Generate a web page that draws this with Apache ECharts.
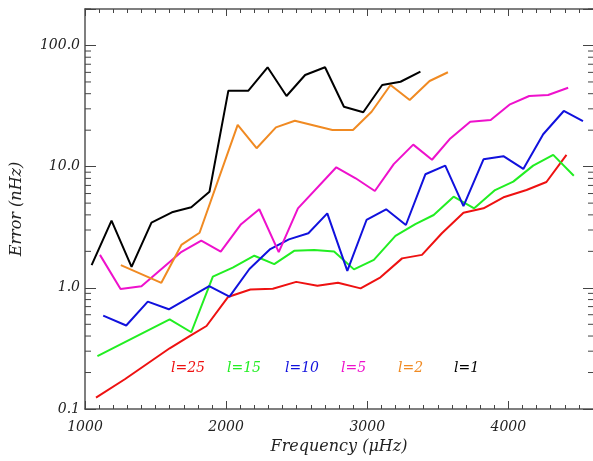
<!DOCTYPE html>
<html>
<head>
<meta charset="utf-8">
<script src="https://cdn.jsdelivr.net/npm/echarts@6.0.0/dist/echarts.min.js"></script>
<style>
  html, body { margin: 0; padding: 0; background: #fff; overflow: hidden; }
  #chart { width: 596px; height: 461px; }
</style>
</head>
<body>
<div id="chart"></div>
<script>
// frequencies (uHz) and errors (nHz) for each degree l
const freqL1 = [1047, 1188, 1330, 1471, 1616, 1753, 1882, 2016, 2158, 2294, 2428, 2560, 2701, 2835, 2972, 3106, 3236, 3377]
const errL1 = [1.54, 3.58, 1.49, 3.45, 4.2, 4.62, 6.21, 42.4, 42.4, 66.1, 38.3, 57.1, 66.1, 31.2, 28.1, 47.2, 50.2, 60.8]

const freqL2 = [1254, 1541, 1683, 1812, 2082, 2216, 2353, 2487, 2753, 2899, 3031, 3165, 3301, 3442, 3572]
const errL2 = [1.54, 1.10, 2.26, 2.85, 22.1, 14.2, 21.1, 23.9, 20.1, 20.1, 28.4, 47.2, 35.5, 50.9, 60.1]

const freqL5 = [1106, 1252, 1400, 1678, 1824, 1962, 2106, 2235, 2373, 2509, 2781, 2918, 3054, 3188, 3326, 3459, 3589, 3730, 3875, 4012, 4148, 4282, 4424]
const errL5 = [1.87, 0.977, 1.03, 1.96, 2.45, 1.99, 3.35, 4.45, 1.97, 4.53, 9.88, 8.02, 6.30, 10.5, 15.2, 11.4, 17.1, 23.5, 24.3, 32.7, 38.3, 39.0, 44.8]

const freqL10 = [1129, 1292, 1445, 1594, 1880, 2024, 2165, 2313, 2445, 2583, 2717, 2859, 2995, 3134, 3274, 3412, 3553, 3682, 3824, 3965, 4106, 4247, 4393, 4529]
const errL10 = [0.589, 0.489, 0.769, 0.665, 1.035, 0.847, 1.43, 2.09, 2.51, 2.82, 4.12, 1.38, 3.63, 4.45, 3.30, 8.65, 10.2, 4.73, 11.5, 12.2, 9.57, 18.5, 28.8, 23.8]

const freqL15 = [1088, 1600, 1753, 1906, 2047, 2200, 2341, 2482, 2624, 2765, 2906, 3047, 3200, 3341, 3471, 3612, 3758, 3906, 4035, 4176, 4318, 4464]
const errL15 = [0.273, 0.549, 0.430, 1.236, 1.47, 1.84, 1.57, 2.02, 2.05, 1.99, 1.42, 1.70, 2.68, 3.36, 3.99, 5.65, 4.53, 6.41, 7.52, 10.2, 12.5, 8.42]

const freqL25 = [1078, 1282, 1600, 1741, 1861, 2013, 2172, 2331, 2497, 2647, 2793, 2953, 3094, 3247, 3388, 3529, 3682, 3824, 3972, 4129, 4270, 4412]
const errL25 = [0.124, 0.176, 0.317, 0.400, 0.484, 0.839, 0.968, 0.984, 1.12, 1.04, 1.10, 0.99, 1.22, 1.75, 1.87, 2.82, 4.17, 4.53, 5.62, 6.42, 7.47, 12.5]

const seriesNames = ['l=25', 'l=15', 'l=10', 'l=5', 'l=2', 'l=1']
const xTickLabels = ['1000', '2000', '3000', '4000']
const yTickLabels = ['0.1', '1.0', '10.0', '100.0']

const colors = ['#ee1111', '#22ee22', '#1111dd', '#ee11cc', '#f08a22', '#000000']
const legendX = [171, 227, 285, 341, 398, 454]
const axisColor = '#444'
const labelFont = 'italic 14px "DejaVu Serif"'

const zip = (xs, ys) => xs.map((x, i) => [x, ys[i]])
const allData = [
  zip(freqL25, errL25),
  zip(freqL15, errL15),
  zip(freqL10, errL10),
  zip(freqL5, errL5),
  zip(freqL2, errL2),
  zip(freqL1, errL1)
]

// log minor ticks 2..9 in each decade
const yMinor = []
for (let d = 0.1; d < 150; d *= 10) {
  for (let k = 2; k <= 9; k++) {
    const v = +(k * d).toPrecision(3)
    if (v <= 200) yMinor.push([1000, v])
  }
}

const isDecade = v => {
  const e = Math.log10(v)
  return Math.abs(e - Math.round(e)) < 1e-6
}

const chart = echarts.init(document.getElementById('chart'))

const lineSeries = seriesNames.map((name, i) => ({
  name,
  type: 'line',
  data: allData[i],
  xAxisIndex: 0,
  yAxisIndex: 0,
  symbol: 'none',
  lineStyle: { color: colors[i], width: 2 },
  itemStyle: { color: colors[i] },
  z: 3
}))

const textStyleAxis = {
  fontFamily: 'DejaVu Serif',
  fontStyle: 'italic',
  fontSize: 14,
  color: '#222'
}

const tickStyle = { color: axisColor, width: 1 }

chart.setOption({
  animation: false,
  backgroundColor: '#fff',
  grid: { left: 85, top: 9, right: 1, bottom: 52 },
  xAxis: [
    {
      type: 'value',
      position: 'bottom',
      min: 1000,
      max: 4600,
      interval: 1000,
      name: 'Frequency (μHz)',
      nameLocation: 'middle',
      nameGap: 28,
      nameTextStyle: { ...textStyleAxis, fontSize: 16 },
      axisLine: { show: true, lineStyle: { color: '#555', width: 1.5 } },
      axisTick: { show: true, inside: true, length: 8, lineStyle: tickStyle },
      axisLabel: {
        ...textStyleAxis,
        margin: 11,
        formatter: v => {
          const s = String(v)
          return xTickLabels.includes(s) ? s : ''
        }
      },
      splitLine: { show: false }
    },
    {
      type: 'value',
      position: 'bottom',
      min: 1000,
      max: 4600,
      interval: 100,
      axisLine: { show: false },
      axisLabel: { show: false },
      axisTick: { show: true, inside: true, length: 4, lineStyle: tickStyle },
      splitLine: { show: false }
    },
    {
      type: 'value',
      position: 'top',
      min: 1000,
      max: 4600,
      interval: 1000,
      axisLine: { show: true, lineStyle: { color: '#555', width: 1.5 } },
      axisLabel: { show: false },
      axisTick: { show: true, inside: true, length: 7, lineStyle: tickStyle },
      splitLine: { show: false }
    },
    {
      type: 'value',
      position: 'top',
      min: 1000,
      max: 4600,
      interval: 100,
      axisLine: { show: false },
      axisLabel: { show: false },
      axisTick: { show: true, inside: true, length: 4, lineStyle: tickStyle },
      splitLine: { show: false }
    }
  ],
  yAxis: [
    {
      type: 'log',
      position: 'left',
      min: 0.1,
      max: 200,
      name: 'Error (nHz)',
      nameLocation: 'middle',
      nameGap: 60,
      nameTextStyle: { ...textStyleAxis, fontSize: 16 },
      axisLine: { show: true, lineStyle: { color: '#555', width: 1.5 } },
      axisTick: { show: true, inside: true, length: 11, lineStyle: tickStyle },
      axisLabel: {
        ...textStyleAxis,
        margin: 5,
        formatter: v => {
          if (!isDecade(v)) return ''
          const s = v.toFixed(1)
          return yTickLabels.includes(s) ? s : ''
        }
      },
      splitLine: { show: false }
    },
    {
      type: 'log',
      position: 'right',
      min: 0.1,
      max: 200,
      axisLine: { show: false },
      axisTick: { show: true, inside: true, length: 10, lineStyle: tickStyle },
      axisLabel: { show: false },
      splitLine: { show: false }
    }
  ],
  graphic: seriesNames.map((name, i) => ({
    type: 'text',
    x: legendX[i],
    y: 368,
    silent: true,
    style: {
      text: name,
      fill: colors[i],
      font: labelFont,
      verticalAlign: 'middle'
    }
  })),
  series: [
    ...lineSeries,
    {
      type: 'custom',
      xAxisIndex: 0,
      yAxisIndex: 0,
      data: yMinor,
      clip: false,
      z: 10,
      renderItem: (params, api) => {
        const v = api.value(1)
        const l = api.coord([1000, v])
        const r = api.coord([4600, v])
        return {
          type: 'group',
          children: [
            { type: 'line', shape: { x1: l[0], y1: l[1], x2: l[0] + 6, y2: l[1] }, style: { stroke: axisColor, lineWidth: 1 } },
            { type: 'line', shape: { x1: r[0], y1: r[1], x2: r[0] - 5, y2: r[1] }, style: { stroke: axisColor, lineWidth: 1 } }
          ]
        }
      }
    }
  ]
})
</script>
</body>
</html>
